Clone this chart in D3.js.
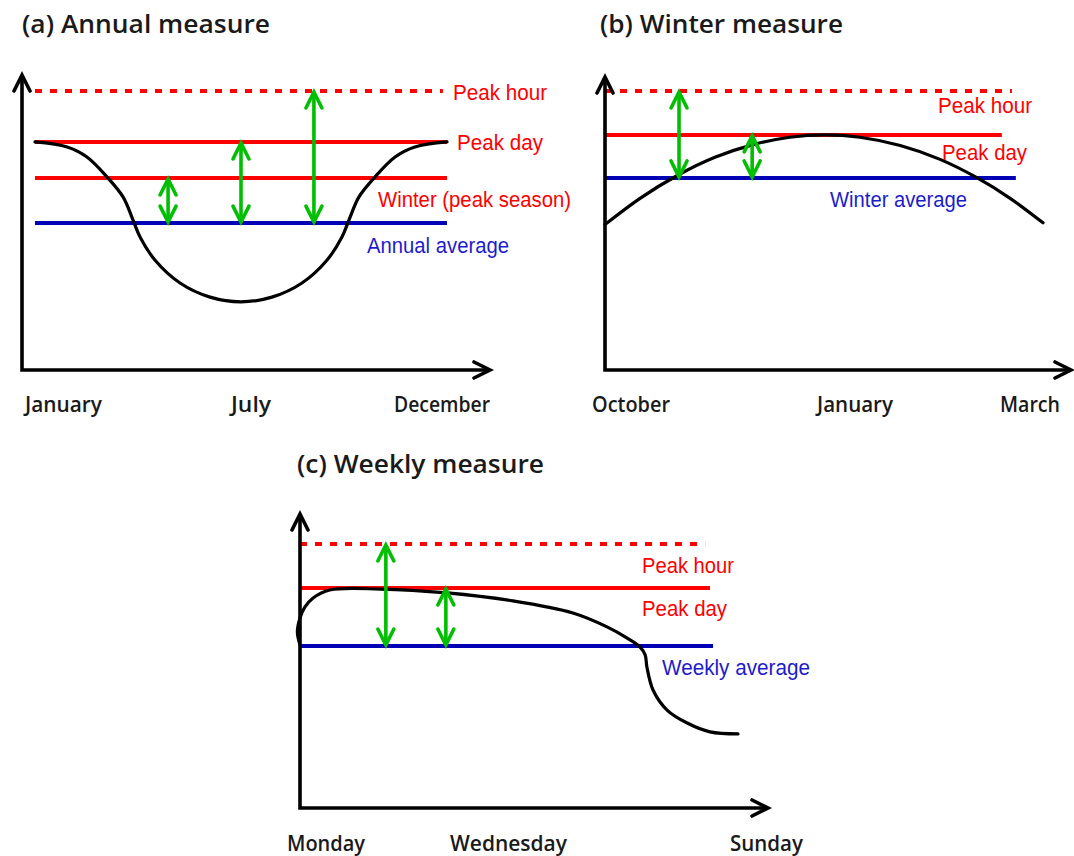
<!DOCTYPE html>
<html>
<head>
<meta charset="utf-8">
<script src="https://cdn.jsdelivr.net/npm/d3@7"></script>
<style>
  html, body { margin: 0; padding: 0; background: #fff; }
  svg { display: block; }
</style>
</head>
<body>
<script>
// ---------------- DATA ----------------
const titles = ["(a) Annual measure", "(b) Winter measure", "(c) Weekly measure"];

const annualTicks = ["January", "July", "December"];
const winterTicks = ["October", "January", "March"];
const weeklyTicks = ["Monday", "Wednesday", "Sunday"];

const annualLevelNames  = ["Peak hour", "Peak day", "Winter (peak season)", "Annual average"];
const annualLevelValues = [94.6, 77.3, 65.1, 49.8];
const annualLevelEnds   = [0.99, 1.0, 1.0, 1.0];

const winterLevelNames  = ["Peak hour", "Peak day", "Winter average"];
const winterLevelValues = [94.6, 79.7, 65.1];
const winterLevelEnds   = [0.929, 0.906, 0.938];

const weeklyLevelNames  = ["Peak hour", "Peak day", "Weekly average"];
const weeklyLevelValues = [89.5, 74.6, 54.9];
const weeklyLevelEnds   = [0.925, 0.936, 0.943];

// demand curves: t = fraction of the period, v = demand level
const annualCurveT = [0, 0.078, 0.126, 0.175, 0.214, 0.238, 0.255, 0.291, 0.352, 0.425, 0.5,
                      0.575, 0.648, 0.709, 0.745, 0.762, 0.786, 0.825, 0.874, 0.922, 1];
const annualCurveV = [77.3, 75.6, 72.2, 65.4, 58.6, 50.8, 45.1, 37.3, 29.5, 24.7, 23.1,
                      24.7, 29.5, 37.3, 45.1, 50.8, 58.6, 65.4, 72.2, 75.6, 77.3];

const winterCurveT = [0, 0.080, 0.167, 0.251, 0.336, 0.422, 0.502, 0.582, 0.674, 0.765, 0.849, 0.925, 1];
const winterCurveV = [49.3, 58.2, 66.1, 72.1, 76.3, 78.9, 79.7, 78.9, 76.1, 71.4, 65.2, 58.2, 49.9];

const weeklyCurveT = [0, -0.006, 0, 0.011, 0.030, 0.068, 0.183, 0.336, 0.486, 0.623, 0.701, 0.747,
                      0.776, 0.788, 0.792, 0.806, 0.838, 0.884, 0.936, 1];
const weeklyCurveV = [55.3, 59.7, 64.4, 68.1, 71.2, 73.9, 74.2, 72.9, 70.2, 66.1, 61.4, 57.6,
                      54.6, 51.9, 47.8, 40.0, 33.2, 28.8, 25.8, 25.1];

// gap arrows: position (fraction of period) and upper level; lower end = average level
const annualArrowT   = [0.323, 0.5, 0.677];
const annualArrowTop = [65.1, 77.3, 94.6];
const winterArrowT   = [0.169, 0.336];
const winterArrowTop = [94.6, 79.7];
const weeklyArrowT   = [0.196, 0.333];
const weeklyArrowTop = [89.5, 74.6];

// ---------------- LAYOUT ----------------
const RED = "#ff0000", BLUE = "#0000b4", BLUE_TXT = "#1c1ccc", GREEN = "#00bf00";

const panels = [
  {
    title: titles[0], titlePos: [22, 33, 248],
    ticks: annualTicks, tickPos: [[25, 77], [231, 40], [394, 96]], tickY: 412,
    names: annualLevelNames, values: annualLevelValues, ends: annualLevelEnds,
    styles: ["dot", "red", "red", "blue"],
    labelPos: [[453, 100, 94], [457, 150, 86], [378, 207, 193], [367, 253, 142]],
    curveT: annualCurveT, curveV: annualCurveV,
    arrowT: annualArrowT, arrowTop: annualArrowTop, avg: annualLevelValues[3],
    xRange: [35, 447], yRange: [370, 75],
    axisX: 22, axisY: 370, axisTop: 75, axisRight: 490
  },
  {
    title: titles[1], titlePos: [600, 33, 243],
    ticks: winterTicks, tickPos: [[592, 78], [817, 76], [1000, 60]], tickY: 412,
    names: winterLevelNames, values: winterLevelValues, ends: winterLevelEnds,
    styles: ["dot", "red", "blue"],
    labelPos: [[938, 113, 94], [942, 160, 85], [830, 207, 137]],
    curveT: winterCurveT, curveV: winterCurveV,
    arrowT: winterArrowT, arrowTop: winterArrowTop, avg: winterLevelValues[2],
    xRange: [605, 1043], yRange: [370, 75],
    axisX: 605, axisY: 370, axisTop: 77, axisRight: 1071
  },
  {
    title: titles[2], titlePos: [297, 473, 247],
    ticks: weeklyTicks, tickPos: [[287, 78], [450, 117], [730, 73]], tickY: 851,
    names: weeklyLevelNames, values: weeklyLevelValues, ends: weeklyLevelEnds,
    styles: ["dot", "red", "blue"],
    labelPos: [[642, 573, 92], [642, 616, 85], [662, 675, 148]],
    curveT: weeklyCurveT, curveV: weeklyCurveV,
    arrowT: weeklyArrowT, arrowTop: weeklyArrowTop, avg: weeklyLevelValues[2],
    xRange: [300, 738], yRange: [808, 513],
    axisX: 300, axisY: 808, axisTop: 514, axisRight: 768
  }
];

const svg = d3.select("body").append("svg")
  .attr("width", 1074).attr("height", 856)
  .attr("viewBox", "0 0 1074 856");

function chevronUp(x, y) { return `M${x - 8},${y + 16}L${x},${y}L${x + 8},${y + 16}`; }
function chevronDown(x, y) { return `M${x - 8},${y - 16}L${x},${y}L${x + 8},${y - 16}`; }
function chevronRight(x, y) { return `M${x - 16},${y - 8}L${x},${y}L${x - 16},${y + 8}`; }

panels.forEach(p => {
  const x = d3.scaleLinear().domain([0, 1]).range(p.xRange);
  const y = d3.scaleLinear().domain([0, 100]).range(p.yRange);
  const g = svg.append("g");

  // title
  g.append("text")
    .attr("x", p.titlePos[0]).attr("y", p.titlePos[1])
    .attr("textLength", p.titlePos[2]).attr("lengthAdjust", "spacingAndGlyphs")
    .style("font-family", "'Open Sans', 'DejaVu Sans', sans-serif")
    .style("font-weight", 600).style("font-size", "26px").attr("fill", "#1a1a1a")
    .text(p.title);

  // level lines
  g.selectAll("line.level").data(p.values).join("line")
    .attr("class", "level")
    .attr("x1", x(0)).attr("x2", (d, i) => x(p.ends[i]))
    .attr("y1", d => y(d)).attr("y2", d => y(d))
    .attr("stroke", (d, i) => p.styles[i] === "blue" ? BLUE : RED)
    .attr("stroke-width", 4)
    .attr("stroke-dasharray", (d, i) => p.styles[i] === "dot" ? "7,8" : null);

  // demand curve
  const pts = p.curveT.map((t, i) => [t, p.curveV[i]]);
  g.append("path")
    .attr("d", d3.line().x(d => x(d[0])).y(d => y(d[1])).curve(d3.curveCatmullRom.alpha(0.5))(pts))
    .attr("fill", "none").attr("stroke", "#000").attr("stroke-width", 3.2)
    .attr("stroke-linecap", "round");

  // green gap arrows
  p.arrowT.forEach((t, i) => {
    const ax = x(t), yTop = y(p.arrowTop[i]), yBot = y(p.avg);
    g.append("line").attr("x1", ax).attr("x2", ax).attr("y1", yTop + 1).attr("y2", yBot - 1)
      .attr("stroke", GREEN).attr("stroke-width", 3.6);
    g.append("path").attr("d", chevronUp(ax, yTop + 1) + chevronDown(ax, yBot - 1))
      .attr("fill", "none").attr("stroke", GREEN).attr("stroke-width", 3.6)
      .attr("stroke-linejoin", "miter").attr("stroke-linecap", "round");
  });

  // axes with arrowheads
  g.append("path")
    .attr("d", `M${p.axisX},${p.axisTop}L${p.axisX},${p.axisY}L${p.axisRight},${p.axisY}`)
    .attr("fill", "none").attr("stroke", "#000").attr("stroke-width", 3.6);
  g.append("path")
    .attr("d", chevronUp(p.axisX, p.axisTop) + chevronRight(p.axisRight, p.axisY))
    .attr("fill", "none").attr("stroke", "#000").attr("stroke-width", 3.6)
    .attr("stroke-linecap", "round");

  // level labels
  g.selectAll("text.lbl").data(p.names).join("text")
    .attr("class", "lbl")
    .attr("x", (d, i) => p.labelPos[i][0]).attr("y", (d, i) => p.labelPos[i][1])
    .attr("textLength", (d, i) => p.labelPos[i][2]).attr("lengthAdjust", "spacingAndGlyphs")
    .style("font-family", "'Liberation Sans', Arial, sans-serif").style("font-size", "22px")
    .attr("fill", (d, i) => p.styles[i] === "blue" ? BLUE_TXT : RED)
    .text(d => d);

  // tick labels
  g.selectAll("text.tick").data(p.ticks).join("text")
    .attr("class", "tick")
    .attr("x", (d, i) => p.tickPos[i][0]).attr("y", p.tickY)
    .attr("textLength", (d, i) => p.tickPos[i][1]).attr("lengthAdjust", "spacingAndGlyphs")
    .style("font-family", "'Open Sans', 'DejaVu Sans', sans-serif")
    .style("font-weight", 600).style("font-size", "22px").attr("fill", "#1a1a1a")
    .text(d => d);
});
</script>
</body>
</html>
